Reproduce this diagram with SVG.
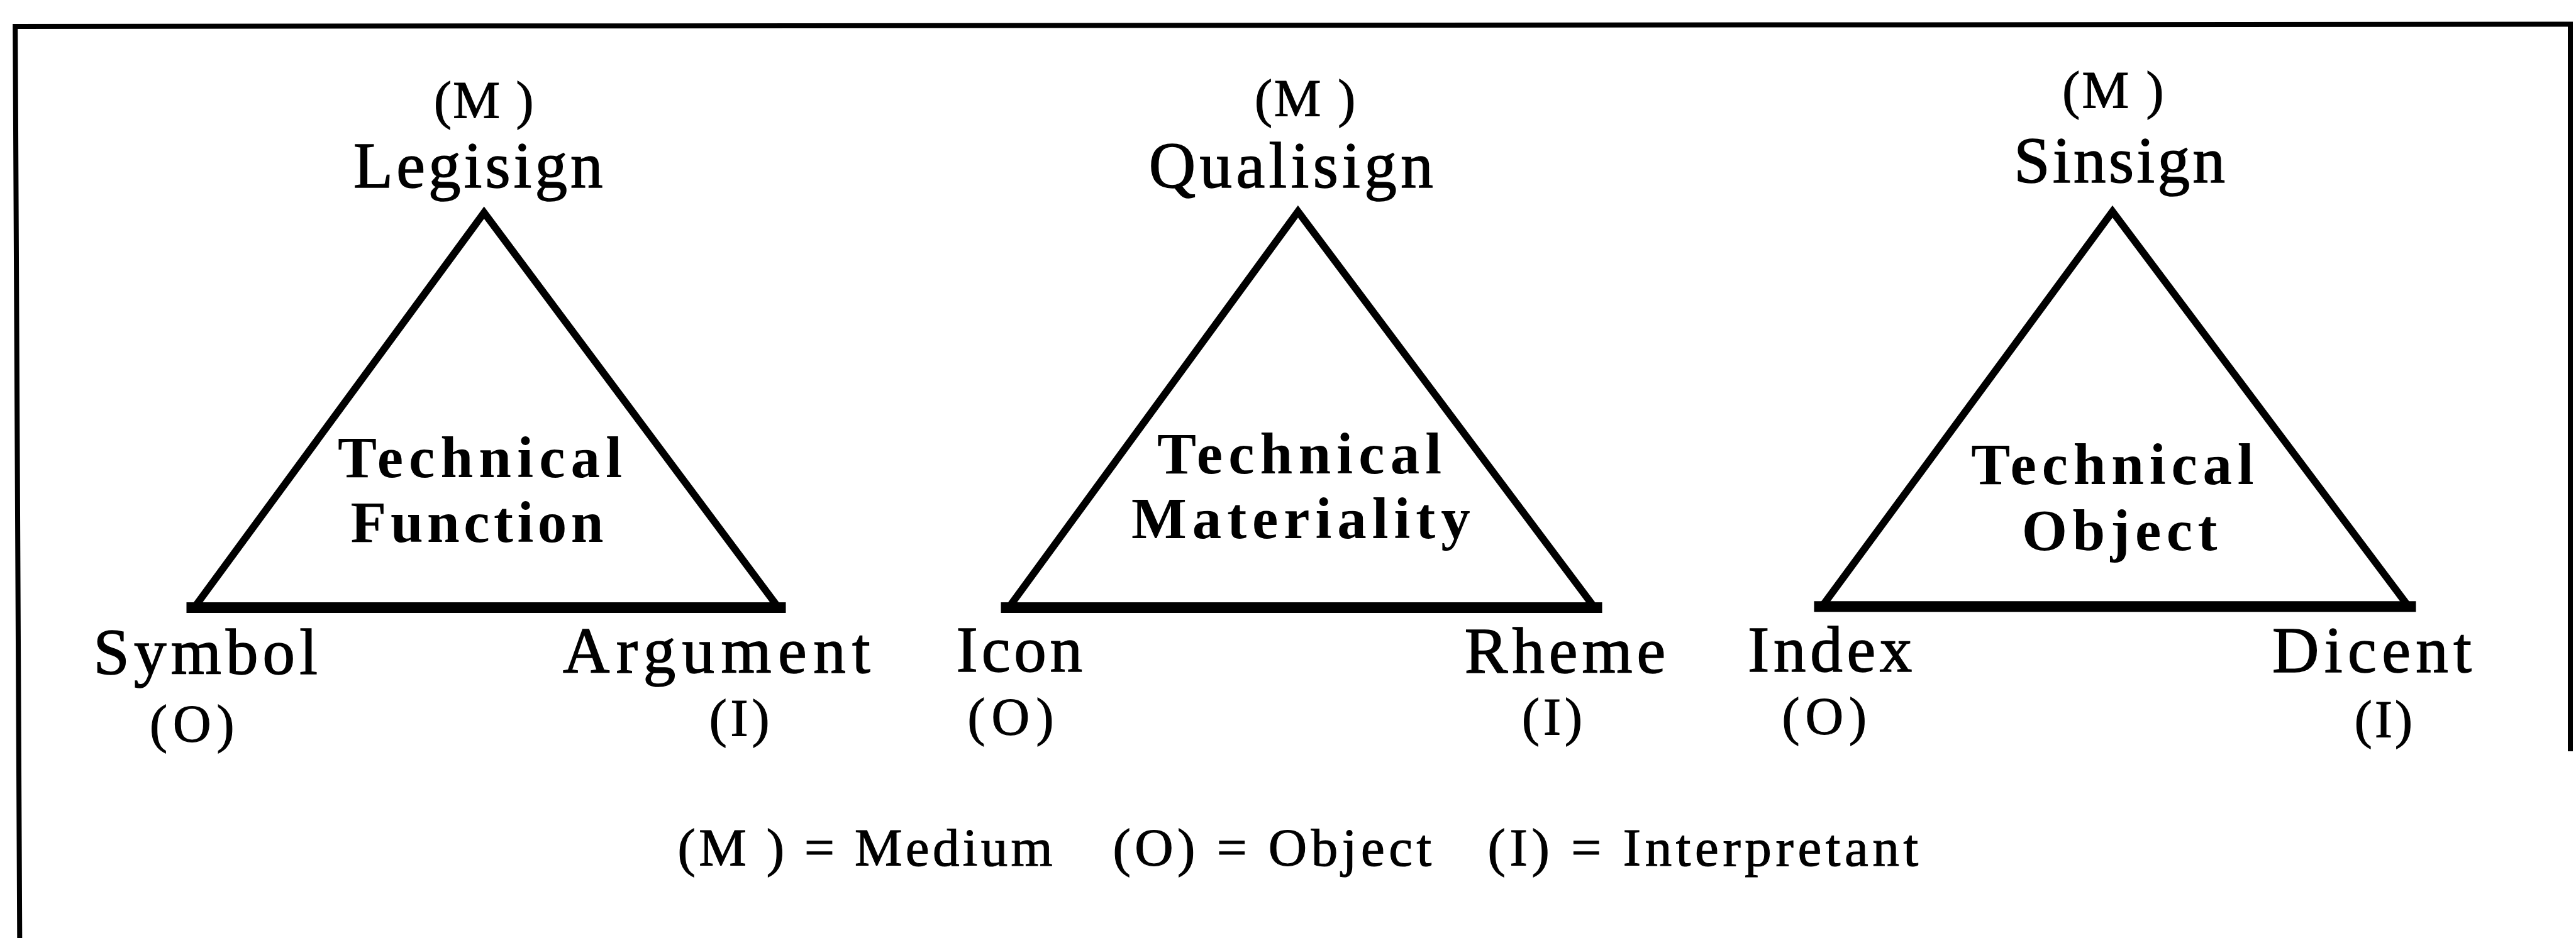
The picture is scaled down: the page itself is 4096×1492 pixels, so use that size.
<svg xmlns="http://www.w3.org/2000/svg" width="4096" height="1492" viewBox="0 0 4096 1492">
<style>
  text { font-family: "Liberation Serif", "Times New Roman", serif; fill: #000; }
  .name { font-size: 103px; stroke: #000; stroke-width: 1.5; }
  .role { font-size: 84px; stroke: #000; stroke-width: 1.2; }
  .core { font-size: 93px; font-weight: bold; }
  .legend { font-size: 85px; stroke: #000; stroke-width: 1.2; }
  .tri { fill: none; stroke: #000; stroke-width: 11.6; stroke-linejoin: miter; stroke-miterlimit: 10; }
  .base { stroke: #000; stroke-width: 17; stroke-linecap: square; }
  .frame { fill: none; stroke: #000; stroke-width: 8; }
</style>
<rect x="0" y="0" width="4096" height="1492" fill="#fff"/>
<g id="frame">
  <path class="frame" d="M31.3,1492 L24.2,42 L4087,38.5 L4087,1195"/>
</g>
<g id="connectors"></g>
<g id="triad-function">
  <polygon class="tri" points="769.7,338.3 308.8,966.6 1237.8,966.6"/>
  <line class="base" x1="305" y1="966.6" x2="1241" y2="966.6"/>
  <text class="role" x="690" y="187.5" textLength="158.4" lengthAdjust="spacing">(M )</text>
  <text class="name" x="562.1" y="298" textLength="396.5" lengthAdjust="spacing">Legisign</text>
  <text class="core" x="537" y="759" textLength="452" lengthAdjust="spacing">Technical</text>
  <text class="core" x="557.6" y="861.9" textLength="401.9" lengthAdjust="spacing">Function</text>
  <text class="name" x="148.6" y="1072.2" textLength="356.2" lengthAdjust="spacing">Symbol</text>
  <text class="role" x="238.1" y="1179.6" textLength="134.3" lengthAdjust="spacing">(O)</text>
  <text class="name" x="895" y="1069.5" textLength="488.7" lengthAdjust="spacing">Argument</text>
  <text class="role" x="1127.7" y="1170.7" textLength="95.8" lengthAdjust="spacing">(I)</text>
</g>
<g id="triad-materiality">
  <polygon class="tri" points="2063.9,336.5 1603.8,966.6 2535.5,966.6"/>
  <line class="base" x1="1600" y1="966.6" x2="2539" y2="966.6"/>
  <text class="role" x="1995" y="185.3" textLength="160.2" lengthAdjust="spacing">(M )</text>
  <text class="name" x="1826.7" y="298" textLength="452" lengthAdjust="spacing">Qualisign</text>
  <text class="core" x="1840.1" y="752.7" textLength="452" lengthAdjust="spacing">Technical</text>
  <text class="core" x="1799" y="855.6" textLength="538.8" lengthAdjust="spacing">Materiality</text>
  <text class="name" x="1520.6" y="1067.7" textLength="200.5" lengthAdjust="spacing">Icon</text>
  <text class="role" x="1538.5" y="1168.9" textLength="136.9" lengthAdjust="spacing">(O)</text>
  <text class="name" x="2328.8" y="1070.4" textLength="319.5" lengthAdjust="spacing">Rheme</text>
  <text class="role" x="2420.1" y="1168.9" textLength="95.8" lengthAdjust="spacing">(I)</text>
</g>
<g id="triad-object">
  <polygon class="tri" points="3359,336.5 2897.1,964.8 3829.7,964.8"/>
  <line class="base" x1="2893" y1="964.8" x2="3833" y2="964.8"/>
  <text class="role" x="3279.3" y="171.8" textLength="161.1" lengthAdjust="spacing">(M )</text>
  <text class="name" x="3202.3" y="290" textLength="335.6" lengthAdjust="spacing">Sinsign</text>
  <text class="core" x="3134.3" y="769.7" textLength="449.3" lengthAdjust="spacing">Technical</text>
  <text class="core" x="3214.8" y="875.3" textLength="310.6" lengthAdjust="spacing">Object</text>
  <text class="name" x="2779" y="1067.7" textLength="261.3" lengthAdjust="spacing">Index</text>
  <text class="role" x="2833.6" y="1168" textLength="134.3" lengthAdjust="spacing">(O)</text>
  <text class="name" x="3613.1" y="1068.6" textLength="316.8" lengthAdjust="spacing">Dicent</text>
  <text class="role" x="3743.8" y="1172.5" textLength="92.2" lengthAdjust="spacing">(I)</text>
</g>
<g id="legend">
  <text class="legend" x="1077.6" y="1376.5" textLength="596.1" lengthAdjust="spacing">(M ) = Medium</text>
  <text class="legend" x="1769.4" y="1376.5" textLength="506.6" lengthAdjust="spacing">(O) = Object</text>
  <text class="legend" x="2365.5" y="1376.5" textLength="684.7" lengthAdjust="spacing">(I) = Interpretant</text>
</g>
</svg>
